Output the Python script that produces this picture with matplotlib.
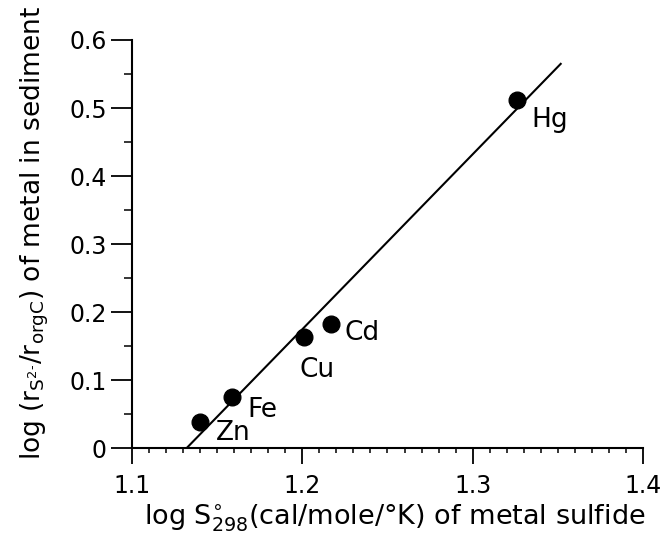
import matplotlib
matplotlib.use("Agg")
import matplotlib.pyplot as plt
from matplotlib.ticker import FixedLocator, MultipleLocator

plt.rcParams["font.family"] = ["DejaVu Sans"]
plt.rcParams["mathtext.default"] = "regular"
plt.rcParams["font.size"] = 17

# metal sulfides: log S298 vs log(r_S2- / r_orgC)
metals = ["Zn", "Fe", "Cu", "Cd", "Hg"]
log_s298 = [1.140, 1.159, 1.201, 1.217, 1.326]
log_ratio = [0.039, 0.075, 0.164, 0.183, 0.512]

# hand-drawn regression line (end points)
fit_x = [1.132, 1.352]
fit_y = [0.0, 0.566]

x_ticks = [1.1, 1.2, 1.3, 1.4]
x_ticklabels = ["1.1", "1.2", "1.3", "1.4"]
y_ticks = [0, 0.1, 0.2, 0.3, 0.4, 0.5, 0.6]
y_ticklabels = ["0", "0.1", "0.2", "0.3", "0.4", "0.5", "0.6"]

# label offsets from each dot, in pixels
label_offsets = {"Zn": (33, -11), "Fe": (30, -13), "Cu": (13, -33),
                 "Cd": (31, -9), "Hg": (33, -20)}

fig = plt.figure(figsize=(6.61, 5.35), dpi=100)
ax = fig.add_axes([0.1992, 0.1617, 0.7740, 0.7636])

ax.plot(fit_x, fit_y, color="black", linewidth=1.5, solid_capstyle="butt")
ax.plot(log_s298, log_ratio, "o", color="black", markersize=12)

for name, xv, yv in zip(metals, log_s298, log_ratio):
    ax.annotate(name, (xv, yv), xytext=label_offsets[name],
                textcoords="offset pixels", ha="center", va="center",
                fontsize=19)

ax.set_xlim(1.1, 1.4)
ax.set_ylim(0, 0.6)
ax.set_xticks(x_ticks)
ax.set_xticklabels(x_ticklabels)
ax.set_yticks(y_ticks)
ax.set_yticklabels(y_ticklabels)
ax.xaxis.set_minor_locator(MultipleLocator(0.01))
ax.yaxis.set_minor_locator(FixedLocator([0.05, 0.15, 0.25, 0.35, 0.45, 0.55]))

for side in ["top", "right"]:
    ax.spines[side].set_visible(False)
for side in ["left", "bottom"]:
    ax.spines[side].set_linewidth(1.5)

ax.tick_params(axis="x", which="major", direction="out", length=11.5, width=1.3, pad=7)
ax.tick_params(axis="x", which="minor", direction="out", length=3.6, width=1.1)
ax.tick_params(axis="y", which="major", direction="out", length=15, width=1.3, pad=3)
ax.tick_params(axis="y", which="minor", direction="out", length=6, width=1.1)

fig.text(395 / 661, 11 / 535, r"log S$^{\circ}_{298}$(cal/mole/$\degree$K) of metal sulfide",
         ha="center", va="baseline", fontsize=19.5)
fig.text(35 / 661, 1 - 233 / 535,
         r"log (r$_{S^{2\text{-}}}$/r$_{orgC}$) of metal in sediment",
         ha="center", va="center", rotation=90, fontsize=19)

fig.savefig("out.png", dpi=100)
